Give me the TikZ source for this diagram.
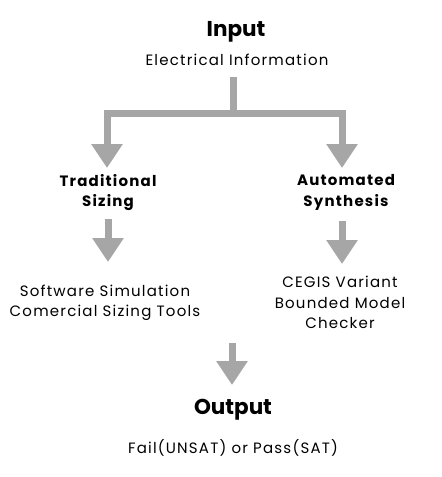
\documentclass[tikz,border=0pt]{standalone}
\usepackage{fontspec}
\setmainfont{Poppins}
\newfontfamily\widefont[LetterSpace=8]{Poppins}
\usetikzlibrary{arrows.meta}
\definecolor{arrgray}{HTML}{A6A6A6}
\tikzset{
  garrow/.style={draw=arrgray, line width=7pt, line join=miter,
    -{Triangle[length=24pt,width=30pt]}},
  gboth/.style={draw=arrgray, line width=7pt, line join=miter,
    {Triangle[length=24pt,width=30pt]}-{Triangle[length=24pt,width=30pt]}},
  gline/.style={draw=arrgray, line width=7pt},
  title/.style={font=\fontsize{21.5}{24}\selectfont\bfseries, inner sep=0pt},
  sub/.style={font=\widefont\fontsize{15}{20.5}\selectfont\bfseries, align=center, inner sep=0pt},
  txt/.style={font=\widefont\fontsize{15}{20.5}\selectfont, align=center, inner sep=0pt}
}
\begin{document}
\begin{tikzpicture}[x=1pt,y=-1pt]
\useasboundingbox (0,0) rectangle (442,477);
\node[title] (in) at (236,32) {Input};
\node[txt] (inD) at (237,60) {Electrical Information};
\coordinate (stemTop) at (233,77);
\coordinate (split) at (233,113);
\coordinate (tipL) at (107,168);
\coordinate (tipR) at (342,168);
\draw[gline] (stemTop) -- (split);
\draw[gboth] (tipL) |- (split) -| (tipR);
\node[sub] (trad) at (108,192.5) {Traditional\\Sizing};
\node[sub] (auto) at (346,192.5) {Automated\\Synthesis};
\coordinate (t2s) at (108,219);
\coordinate (t2e) at (108,262);
\coordinate (a2s) at (342,221);
\coordinate (a2e) at (342,264);
\draw[garrow] (t2s) -- (t2e);
\draw[garrow] (a2s) -- (a2e);
\node[txt] (tradD) at (105,303) {Software Simulation\\Comercial Sizing Tools};
\node[txt] (autoD) at (340,302.5) {CEGIS Variant\\Bounded Model\\Checker};
\coordinate (o1) at (232,343);
\coordinate (o2) at (232,385);
\draw[garrow] (o1) -- (o2);
\node[title] (out) at (233,410) {Output};
\node[txt] (outD) at (233,448) {Fail(UNSAT) or Pass(SAT)};
\end{tikzpicture}
\end{document}
